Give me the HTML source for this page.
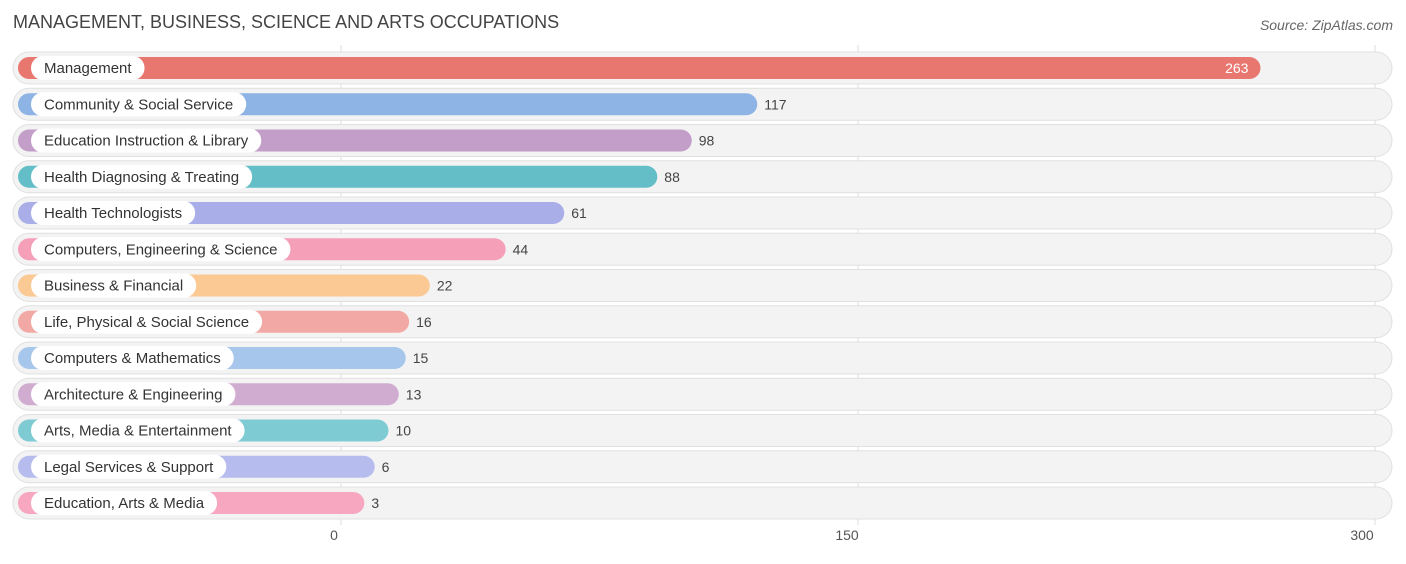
<!DOCTYPE html>
<html><head><meta charset="utf-8"><style>
body{margin:0;background:#fff;font-family:"Liberation Sans",sans-serif;}
svg text{font-family:"Liberation Sans",sans-serif;}
</style></head><body>
<svg id="c" width="1406" height="559">
<text x="13" y="28" font-size="18" fill="#444">MANAGEMENT, BUSINESS, SCIENCE AND ARTS OCCUPATIONS</text>
<text x="1393" y="30" font-size="14" fill="#666" font-style="italic" text-anchor="end">Source: ZipAtlas.com</text>
</svg>
<script>
const categories=["Management","Community & Social Service","Education Instruction & Library","Health Diagnosing & Treating","Health Technologists","Computers, Engineering & Science","Business & Financial","Life, Physical & Social Science","Computers & Mathematics","Architecture & Engineering","Arts, Media & Entertainment","Legal Services & Support","Education, Arts & Media"];
const values=[263,117,98,88,61,44,22,16,15,13,10,6,3];
const ticks=[0,150,300];
const colors=["#e8776f","#8db4e4","#c29ec8","#63bec8","#a9aee8","#f59fb9","#fbc993","#f2a9a5","#a6c6ec","#cfacd0","#7fcbd4","#b6bcee","#f7a8c0"];
const svg=document.getElementById('c');const NS="http://www.w3.org/2000/svg";
function x(v){return 341+v*(1375-341)/300;}
function y(i){return 68+i*36.25;}
function mk(t,a){const e=document.createElementNS(NS,t);for(const k in a)e.setAttribute(k,a[k]);return e;}
ticks.forEach((t,i)=>{
 const l=mk('line',{x1:x(t),x2:x(t),y1:45,y2:525,stroke:'#ddd','stroke-width':1});
 
 
 svg.appendChild(l);
});
categories.forEach((c,i)=>{
 const cy=y(i);
 const bg=mk('rect',{x:13,y:cy-16,width:1379,height:32,rx:16,fill:'#f3f3f3',stroke:'#e0e0e0'});
 
 
 svg.appendChild(bg);
 const end=x(values[i])+13;
 const b=mk('rect',{x:18,y:cy-11,width:end-18,height:22,rx:11,fill:colors[i]});
 
 
 svg.appendChild(b);
 const lt=mk('text',{x:44,y:cy+5,'font-size':15,fill:'#333'});lt.textContent=c;
 
 
 svg.appendChild(lt);
 const w=lt.getComputedTextLength();
 const p=mk('rect',{x:31,y:cy-12,width:w+26,height:24,rx:12,fill:'#fff'});
 
 
 svg.insertBefore(p,lt);
 const inside=values[i]>200;
 const vt=mk('text',{x:inside?end-12:end+7,y:cy+5,'font-size':14,fill:inside?'#fff':'#444','text-anchor':inside?'end':'start'});
 vt.textContent=values[i];
 
 
 svg.appendChild(vt);
});
ticks.forEach((t,i)=>{
 const tx=mk('text',{x:x(t)+(i==0?-7:i==2?-13:-11),y:540,'font-size':14,fill:'#555','text-anchor':'middle'});
 tx.textContent=t;
 
 
 svg.appendChild(tx);
});
</script>
</body></html>
